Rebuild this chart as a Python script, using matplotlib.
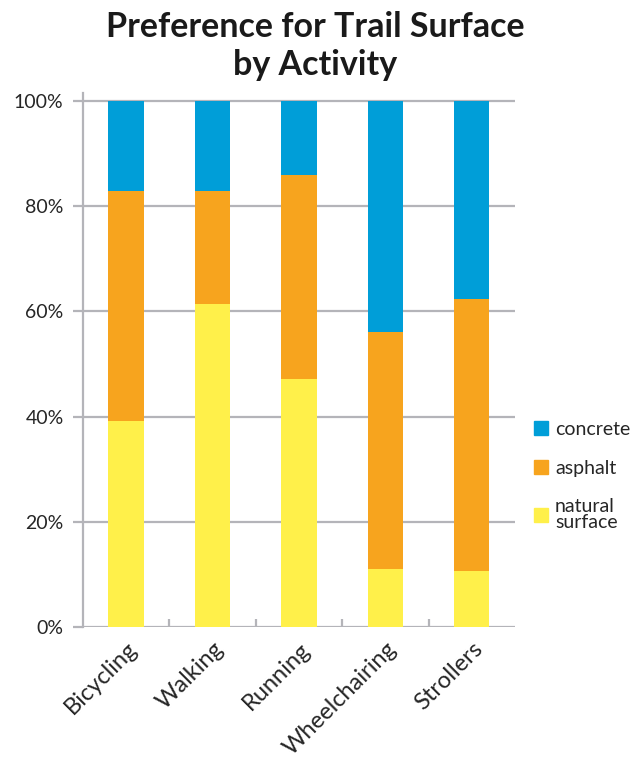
import matplotlib
matplotlib.use("Agg")
import matplotlib.pyplot as plt
import numpy as np
from matplotlib.patches import Patch

plt.rcParams['font.family'] = ['Lato', 'DejaVu Sans']

activities = ["Bicycling", "Walking", "Running", "Wheelchairing", "Strollers"]
natural_surface = [39.2, 61.4, 47.2, 11.0, 10.7]
asphalt = [43.7, 21.5, 38.7, 45.1, 51.7]
concrete = [17.1, 17.1, 14.1, 43.9, 37.6]
y_ticks = [0, 20, 40, 60, 80, 100]

colors = {"concrete": "#009ED8", "asphalt": "#F7A41E", "natural": "#FFF04A"}
grid_gray = "#B4B4B9"
text_color = "#262626"

fig = plt.figure(figsize=(6.31, 7.63), dpi=100)
ax = fig.add_axes([0.1315, 0.178, 0.6845, 0.700])

x = np.arange(len(activities))
width = 0.41
bottom2 = np.array(natural_surface)
bottom3 = bottom2 + np.array(asphalt)
ax.bar(x, natural_surface, width, color=colors["natural"], zorder=3)
ax.bar(x, asphalt, width, bottom=bottom2, color=colors["asphalt"], zorder=3)
ax.bar(x, concrete, width, bottom=bottom3, color=colors["concrete"], zorder=3)

ax.set_xlim(-0.5, len(activities) - 0.5)
ax.set_ylim(0, 101.5)

# gridlines
for t in y_ticks:
    ax.axhline(t, color=grid_gray, lw=1.6, zorder=1)

for side in ["top", "right", "bottom"]:
    ax.spines[side].set_visible(False)
ax.spines["left"].set_color(grid_gray)
ax.spines["left"].set_linewidth(1.6)

ax.set_yticks(y_ticks)
ax.set_yticklabels([f"{t}%" for t in y_ticks], fontsize=14, color=text_color)
ax.tick_params(axis="y", length=7, width=1.6, color=grid_gray, pad=7)

ax.set_xticks(x)
ax.set_xticklabels(activities, rotation=45, ha="right", rotation_mode="anchor",
                   fontsize=17, color=text_color)
ax.tick_params(axis="x", which="major", length=0, pad=8)
ax.set_xticks(np.arange(0.5, len(activities) - 0.5), minor=True)
ax.tick_params(axis="x", which="minor", direction="in", length=6, width=1.6,
               color=grid_gray)

fig.text(0.5, 0.985, "Preference for Trail Surface\nby Activity", ha="center",
         va="top", fontsize=24.5, fontweight="bold", color="#1a1a1a",
         linespacing=1.2)

handles = [Patch(color=colors["concrete"]), Patch(color=colors["asphalt"]),
           Patch(color=colors["natural"])]
leg = fig.legend(handles, ["concrete", "asphalt", "natural\nsurface"],
                 loc="upper left", bbox_to_anchor=(0.818, 0.471),
                 frameon=False, fontsize=14, handlelength=0.75,
                 handleheight=0.75, handletextpad=0.35, labelspacing=1.1,
                 labelcolor=text_color)
for txt in leg.get_texts():
    txt.set_linespacing(0.95)

fig.savefig("out.png", dpi=100)
